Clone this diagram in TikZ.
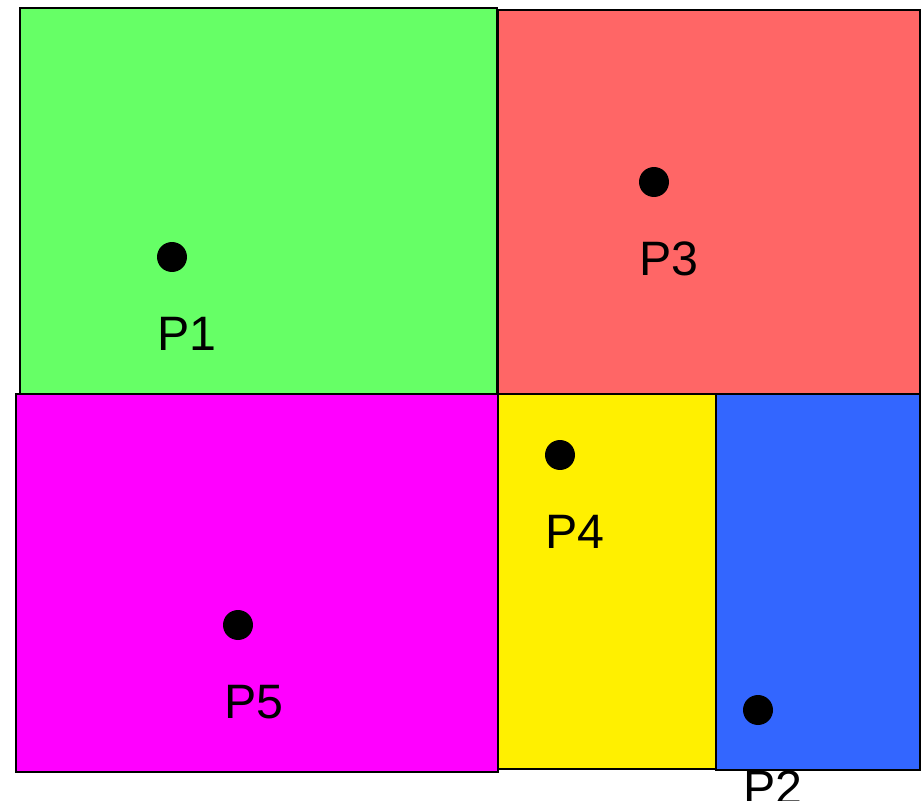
\documentclass[tikz,border=0pt]{standalone}
\usepackage{fontspec}
\setmainfont{Liberation Sans}
\usepackage{xcolor}
\definecolor{regGreen}{HTML}{66FF66}
\definecolor{regRed}{HTML}{FF6666}
\definecolor{regMagenta}{HTML}{FF00FF}
\definecolor{regYellow}{HTML}{FFF000}
\definecolor{regBlue}{HTML}{3366FF}
\tikzset{
    region/.style={draw=black, line width=1.1pt},
    siteDot/.style={circle, fill=black, inner sep=0pt, minimum size=6mm},
    siteLbl/.style={font=\fontsize{27.5}{32}\selectfont, inner sep=0pt}
}

\begin{document}
\begin{tikzpicture}[x=0.02cm, y=-0.02cm]
    \useasboundingbox (0,0) rectangle (924,801);
    % --- regions ---
    \fill[regGreen, region] (20,8) rectangle (497,394);
    \fill[regRed, region] (498,10) rectangle (920,394);
    \fill[regMagenta, region] (16,394) rectangle (498,772);
    \fill[regYellow, region] (498,394) rectangle (716,769);
    \fill[regBlue, region] (716,394) rectangle (920,770);
    % --- sites ---
    \node[siteDot] (p1) at (172,257) {};
    \node[siteDot] (p3) at (654,182) {};
    \node[siteDot] (p4) at (560,455) {};
    \node[siteDot] (p5) at (238,625) {};
    \node[siteDot] (p2) at (758,710) {};
    \node[siteLbl] (l1) at (187,334) {P1};
    \node[siteLbl] (l3) at (669,259) {P3};
    \node[siteLbl] (l4) at (575,532) {P4};
    \node[siteLbl] (l5) at (254,702) {P5};
    \node[siteLbl] (l2) at (773,788) {P2};
\end{tikzpicture}
\end{document}
